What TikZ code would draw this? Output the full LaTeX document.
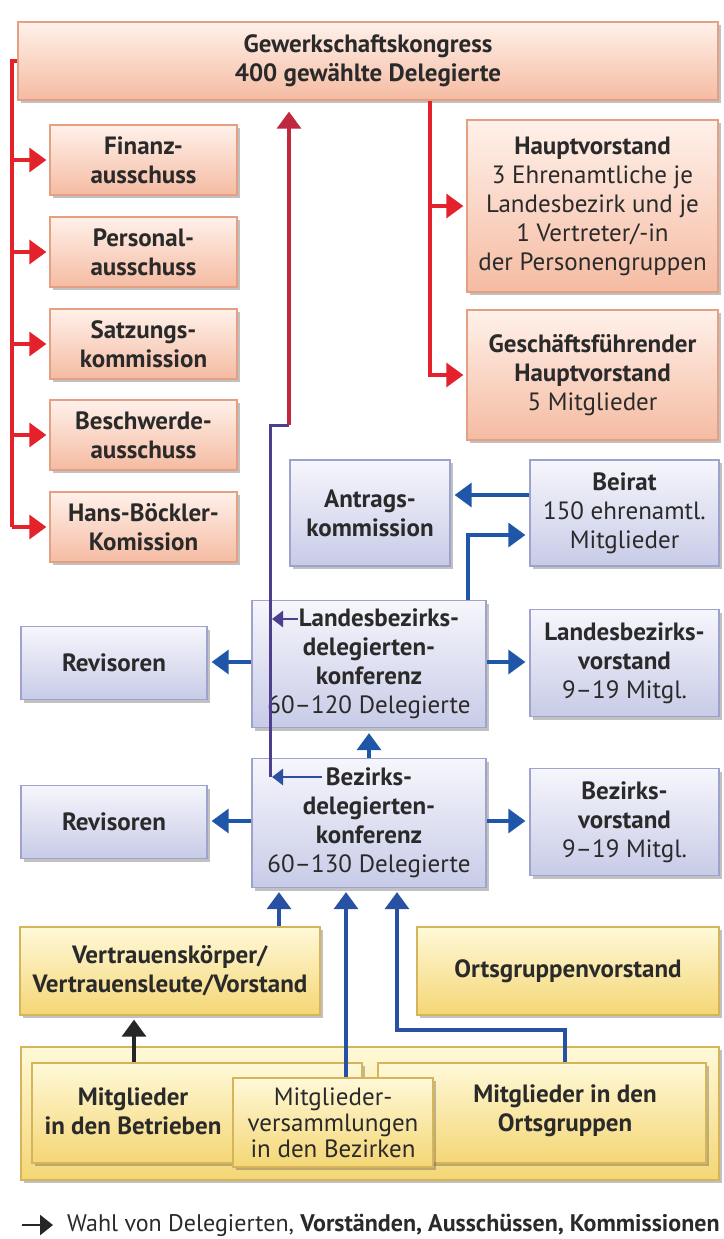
\documentclass[tikz,border=0pt]{standalone}
\usepackage{fontspec}
\setmainfont{PT Sans}
\usetikzlibrary{arrows.meta,shadows,calc}
\definecolor{redL}{HTML}{E3222B}
\definecolor{blueL}{HTML}{1F56A8}
\definecolor{purpL}{HTML}{4E3F8E}
\definecolor{crimL}{HTML}{C0283F}
\definecolor{redT}{HTML}{FFF1EA}
\definecolor{redB}{HTML}{F5BBA2}
\definecolor{redD}{HTML}{E5A084}
\definecolor{bluT}{HTML}{F6F6FC}
\definecolor{bluB}{HTML}{C8CBE7}
\definecolor{bluD}{HTML}{9EA3CE}
\definecolor{yelT}{HTML}{FFF9D8}
\definecolor{yelB}{HTML}{F4D675}
\definecolor{yelD}{HTML}{D6B45C}
\definecolor{txt}{HTML}{2A2A2A}
\begin{document}
\begin{tikzpicture}[x=1pt,y=-1pt,
  every node/.style={inner sep=0pt,align=center,text=txt,font=\fontsize{25}{29}\selectfont},
  box/.style={draw,line width=1.3pt,drop shadow={shadow xshift=2.5pt,shadow yshift=-3pt,opacity=.35,fill=black!70}},
  redbox/.style={box,draw=redD,top color=redT,bottom color=redB},
  bluebox/.style={box,draw=bluD,top color=bluT,bottom color=bluB},
  yelbox/.style={box,draw=yelD,top color=yelT,bottom color=yelB},
  tip/.style={-{Triangle[width=24pt,length=17pt]}},
  redarr/.style={line width=3.3pt,draw=redL,tip},
  redline/.style={line width=3.3pt,draw=redL},
  bluearr/.style={line width=3.3pt,draw=blueL,tip},
  smallarr/.style={line width=2.8pt,-{Triangle[width=16pt,length=11pt]}},
  blkarr/.style={line width=3.3pt,draw=black!85,tip},
  lowtext/.style={font=\fontsize{25}{26}\selectfont}
]
\useasboundingbox (0,0) rectangle (723,1239);

% ---------- red level
\node[redbox,minimum width=700pt,minimum height=78pt] (kongress) at (368,61) {\textbf{Gewerkschaftskongress}\\\textbf{400 gewählte Delegierte}};
\node[redbox,minimum width=187pt,minimum height=70pt] (fin) at (143.5,160) {\textbf{Finanz-}\\\textbf{ausschuss}};
\node[redbox,minimum width=187pt,minimum height=70pt] (pers) at (143.5,252) {\textbf{Personal-}\\\textbf{ausschuss}};
\node[redbox,minimum width=187pt,minimum height=70pt] (satz) at (143.5,344) {\textbf{Satzungs-}\\\textbf{kommission}};
\node[redbox,minimum width=187pt,minimum height=70pt] (besch) at (143.5,435) {\textbf{Beschwerde-}\\\textbf{ausschuss}};
\node[redbox,minimum width=187pt,minimum height=70pt] (hans) at (143.5,527) {\textbf{Hans-Böckler-}\\\textbf{Komission}};
\node[redbox,minimum width=251pt,minimum height=172pt] (haupt) at (592.5,206) {\textbf{Hauptvorstand}\\3 Ehrenamtliche je\\Landesbezirk und je\\1 Vertreter/-in\\der Personengruppen};
\node[redbox,minimum width=251pt,minimum height=130pt] (gf) at (592.5,375) {\textbf{Geschäftsführender}\\\textbf{Hauptvorstand}\\5 Mitglieder};

% ---------- blue level
\node[bluebox,minimum width=160pt,minimum height=106pt] (antrag) at (370,513) {\textbf{Antrags-}\\\textbf{kommission}};
\node[bluebox,minimum width=189pt,minimum height=106pt] (beirat) at (624.5,513) {\textbf{Beirat}\\150 ehrenamtl.\\Mitglieder};
\node[bluebox,minimum width=234pt,minimum height=127pt] (landes) at (369,664) {\hspace*{20pt}\textbf{Landesbezirks-}\\\textbf{delegierten-}\\\textbf{konferenz}\\60–120 Delegierte};
\node[bluebox,minimum width=186pt,minimum height=73pt] (rev1) at (114,663) {\textbf{Revisoren}};
\node[bluebox,minimum width=189pt,minimum height=107pt] (lvor) at (624.5,663) {\textbf{Landesbezirks-}\\\textbf{vorstand}\\9–19 Mitgl.};
\node[bluebox,minimum width=234pt,minimum height=129pt] (bezirk) at (369,823) {\textbf{Bezirks-}\\\textbf{delegierten-}\\\textbf{konferenz}\\60–130 Delegierte};
\node[bluebox,minimum width=186pt,minimum height=73pt] (rev2) at (114,822) {\textbf{Revisoren}};
\node[bluebox,minimum width=189pt,minimum height=107pt] (bvor) at (624.5,822) {\textbf{Bezirks-}\\\textbf{vorstand}\\9–19 Mitgl.};

% ---------- yellow level
\node[yelbox,minimum width=300pt,minimum height=88pt] (vertr) at (170,971) {\textbf{Vertrauenskörper/}\\\textbf{Vertrauensleute/Vorstand}};
\node[yelbox,minimum width=302pt,minimum height=88pt] (ovor) at (568,971) {\textbf{Ortsgruppenvorstand}};
\node[yelbox,minimum width=698pt,minimum height=133pt] (outer) at (370,1113.5) {};
\node[yelbox,minimum width=330pt,minimum height=100pt] (lin) at (197,1113) {};
\node[yelbox,minimum width=328pt,minimum height=100pt] (rin) at (542,1113) {};
\node[yelbox,minimum width=200pt,minimum height=89pt,lowtext] (mv) at (333,1122.5) {Mitglieder-\\versammlungen\\in den Bezirken};
\node (lintext) at (133,1111) {\textbf{Mitglieder}\\\textbf{in den Betrieben}};
\node (rintext) at (565,1111) {\textbf{Mitglieder in den}\\\textbf{Ortsgruppen}};

% ---------- red connectors
\coordinate (ltop) at (12,61);
\coordinate (lbot) at (12,527);
\draw[redline] (kongress.west) -- (ltop) -- (lbot);
\foreach \n in {fin,pers,satz,besch} \draw[redarr,shorten >=3pt] (ltop |- \n.west) -- (\n.west);
\draw[redarr,shorten >=3pt] (lbot) -- (hans.west);
\coordinate (rtop) at (kongress.south -| 430,0);
\draw[redline] (rtop) |- ([xshift=-30pt]gf.west);
\draw[redarr,shorten >=3pt] (rtop |- haupt.west) -- (haupt.west);
\draw[redarr,shorten >=3pt] (rtop |- gf.west) -- (gf.west);

% ---------- delegate trunk to congress
\coordinate (pj2) at (289,425);
\coordinate (pj1) at (270,425);
\coordinate (pbot) at (270,777);
\coordinate (bzfrom) at (322,777);
\coordinate (lafrom) at (298,619);
\coordinate (latip) at (272,619);
\coordinate (bztip) at (272,777);
\draw[line width=3pt,draw=purpL] (pbot) -- (pj1) -- (pj2);
\draw[line width=3.3pt,draw=crimL,tip,shorten >=11pt] (pj2) -- (kongress.south -| pj2);
\draw[smallarr,draw=purpL] (lafrom) -- (latip);
\draw[smallarr,draw=blueL!70!purpL] (bzfrom) -- (bztip);

% ---------- blue connectors
\draw[bluearr] (beirat.west |- 0,495) -- ([xshift=4pt]antrag.east |- 0,495);
\draw[bluearr,shorten >=4pt] (landes.north -| 468,0) |- (beirat.west |- 0,535);
\draw[bluearr,shorten >=4pt] (landes.west |- 0,662) -- (rev1.east |- 0,662);
\draw[bluearr,shorten >=4pt] (landes.east |- 0,662) -- (lvor.west |- 0,662);
\draw[bluearr,shorten >=4pt] (bezirk.west |- 0,821) -- (rev2.east |- 0,821);
\draw[bluearr,shorten >=4pt] (bezirk.east |- 0,821) -- (bvor.west |- 0,821);
\draw[bluearr,shorten >=5pt] (bezirk.north) -- (landes.south);

% ---------- bottom connectors
\draw[bluearr,draw=blueL!80!purpL,shorten >=4pt] (vertr.north -| 279,0) -- (bezirk.south -| 279,0);
\draw[bluearr,draw=blueL!80!purpL,shorten >=4pt] (mv.north -| 346,0) -- (bezirk.south -| 346,0);
\draw[bluearr,draw=blueL!80!purpL,shorten >=4pt] (rin.north -| 565,0) -- (565,1030) -- (397,1030) -- (bezirk.south -| 397,0);
\draw[blkarr,shorten >=4pt] (lin.north -| 134,0) -- (vertr.south -| 134,0);

% ---------- legend
\coordinate (lga) at (22,1225);
\coordinate (lgb) at (53,1225);
\draw[line width=2.7pt,draw=black!85,-{Triangle[width=20pt,length=13pt]}] (lga) -- (lgb);
\node[anchor=west,font=\fontsize{24}{28}\selectfont] (legend) at (67,1225) {Wahl von Delegierten, \textbf{Vorständen, Ausschüssen, Kommissionen}};
\end{tikzpicture}
\end{document}
